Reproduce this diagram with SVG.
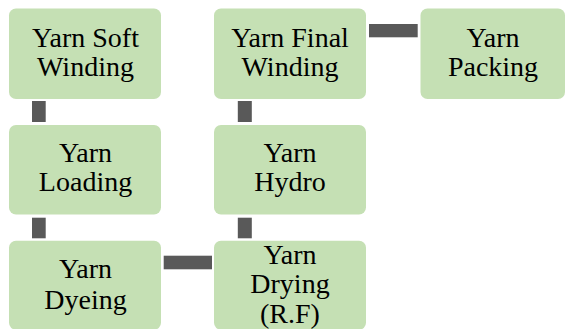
<svg xmlns="http://www.w3.org/2000/svg" width="566" height="329" viewBox="0 0 566 329">
<rect width="566" height="329" fill="#ffffff"/>
<g id="connectors" fill="#595959">
<rect x="32" y="101" width="13.7" height="21"/>
<rect x="32" y="217.7" width="13.7" height="20.6"/>
<rect x="237.8" y="217.7" width="14" height="20.6"/>
<rect x="237.8" y="101" width="14" height="21"/>
<rect x="163.7" y="255.7" width="48.3" height="13.6"/>
<rect x="369" y="24" width="48.7" height="13.3"/>
</g>
<g id="soft-winding">
<rect x="9" y="8.5" width="152" height="90.5" rx="7" fill="#c5e0b4"/>
<text x="85.5" y="46.7" font-family="Times New Roman, serif" font-size="28" text-anchor="middle">Yarn Soft</text>
<text x="85.5" y="76" font-family="Times New Roman, serif" font-size="28" text-anchor="middle">Winding</text>
</g>
<g id="loading">
<rect x="9" y="125" width="152" height="89.5" rx="7" fill="#c5e0b4"/>
<text x="85.5" y="161.7" font-family="Times New Roman, serif" font-size="28" text-anchor="middle">Yarn</text>
<text x="85.5" y="191" font-family="Times New Roman, serif" font-size="28" text-anchor="middle">Loading</text>
</g>
<g id="dyeing">
<rect x="9" y="240.7" width="152" height="89" rx="7" fill="#c5e0b4"/>
<text x="85.5" y="278.3" font-family="Times New Roman, serif" font-size="28" text-anchor="middle">Yarn</text>
<text x="85.5" y="309.3" font-family="Times New Roman, serif" font-size="28" text-anchor="middle">Dyeing</text>
</g>
<g id="drying">
<rect x="214" y="240.7" width="152" height="89" rx="7" fill="#c5e0b4"/>
<text x="290" y="264" font-family="Times New Roman, serif" font-size="28" text-anchor="middle">Yarn</text>
<text x="290" y="293.3" font-family="Times New Roman, serif" font-size="28" text-anchor="middle">Drying</text>
<text x="290" y="323" font-family="Times New Roman, serif" font-size="28" text-anchor="middle">(R.F)</text>
</g>
<g id="hydro">
<rect x="214" y="125" width="152" height="89.5" rx="7" fill="#c5e0b4"/>
<text x="290" y="161.7" font-family="Times New Roman, serif" font-size="28" text-anchor="middle">Yarn</text>
<text x="290" y="191" font-family="Times New Roman, serif" font-size="28" text-anchor="middle">Hydro</text>
</g>
<g id="final-winding">
<rect x="214" y="8.5" width="152" height="90.5" rx="7" fill="#c5e0b4"/>
<text x="290" y="46.7" font-family="Times New Roman, serif" font-size="28" text-anchor="middle">Yarn Final</text>
<text x="290" y="76" font-family="Times New Roman, serif" font-size="28" text-anchor="middle">Winding</text>
</g>
<g id="packing">
<rect x="420.5" y="8.5" width="144.5" height="90.5" rx="7" fill="#c5e0b4"/>
<text x="493" y="46.7" font-family="Times New Roman, serif" font-size="28" text-anchor="middle">Yarn</text>
<text x="493" y="76" font-family="Times New Roman, serif" font-size="28" text-anchor="middle">Packing</text>
</g>
</svg>
